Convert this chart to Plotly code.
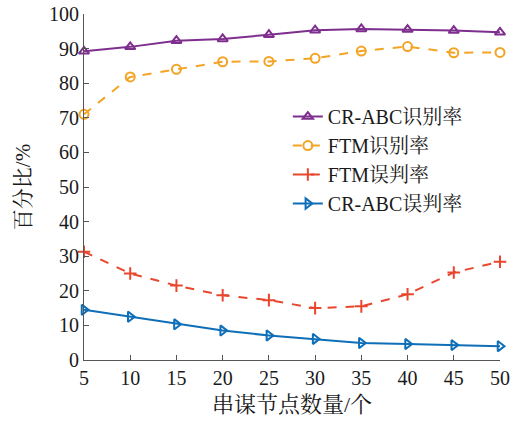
import plotly.graph_objects as go

x_nodes = [5, 10, 15, 20, 25, 30, 35, 40, 45, 50]
cr_abc_recog = [89.2, 90.5, 92.3, 92.8, 94.0, 95.3, 95.7, 95.5, 95.2, 94.7]
ftm_recog = [71.0, 81.8, 84.0, 86.2, 86.3, 87.2, 89.3, 90.6, 88.8, 88.9]
ftm_misjudge = [31.3, 25.0, 21.5, 18.7, 17.3, 15.0, 15.5, 19.0, 25.3, 28.4]
cr_abc_misjudge = [14.5, 12.5, 10.3, 8.5, 7.1, 6.1, 4.9, 4.6, 4.3, 4.0]
x_ticks = [5, 10, 15, 20, 25, 30, 35, 40, 45, 50]
y_ticks = [0, 10, 20, 30, 40, 50, 60, 70, 80, 90, 100]

FONT = "Liberation Serif, Noto Serif CJK SC, Noto Sans CJK SC, serif"

series = [
    ("CR-ABC识别率", cr_abc_recog, "#7E2F8E", "solid", "triangle-up-open"),
    ("FTM识别率", ftm_recog, "#F3A425", "dash", "circle-open"),
    ("FTM误判率", ftm_misjudge, "#E8472E", "dash", "cross-thin-open"),
    ("CR-ABC误判率", cr_abc_misjudge, "#0F6EB8", "solid", "triangle-right-open"),
]

fig = go.Figure()
for name, vals, color, dash, sym in series:
    fig.add_trace(go.Scatter(
        x=x_nodes, y=vals, name=name, mode="lines+markers",
        line=dict(color=color, width=2, dash=dash),
        marker=dict(symbol=sym, size=9, color=color, line=dict(color=color, width=2)),
        cliponaxis=False,
    ))

fig.update_layout(
    width=524, height=421,
    margin=dict(l=84, r=24, t=14, b=61),
    paper_bgcolor="white", plot_bgcolor="white",
    font=dict(family=FONT, size=20, color="#1a1a1a"),
    legend=dict(x=0.49, y=0.76, xanchor="left", yanchor="top",
                bgcolor="rgba(0,0,0,0)", font=dict(size=20), tracegroupgap=0,
                itemwidth=30),
    showlegend=True,
)
fig.update_xaxes(
    range=[5, 50], tickvals=x_ticks, ticktext=[str(v) for v in x_ticks],
    showline=True, linecolor="#555", linewidth=1, mirror=False,
    ticks="inside", ticklen=5, tickcolor="#555",
    showgrid=False, zeroline=False, automargin=False,
    title=dict(text="串谋节点数量/个", font=dict(size=22), standoff=8),
)
fig.update_yaxes(
    range=[0, 100], tickvals=y_ticks, ticktext=[str(v) for v in y_ticks],
    showline=True, linecolor="#555", linewidth=1, mirror=False,
    ticks="inside", ticklen=5, tickcolor="#555",
    showgrid=False, zeroline=False, automargin=False,
    title=dict(text="百分比/%", font=dict(size=21), standoff=12),
)

fig.write_html("out.html", post_script="document.body.style.margin='0';",
               config={"displayModeBar": False})
